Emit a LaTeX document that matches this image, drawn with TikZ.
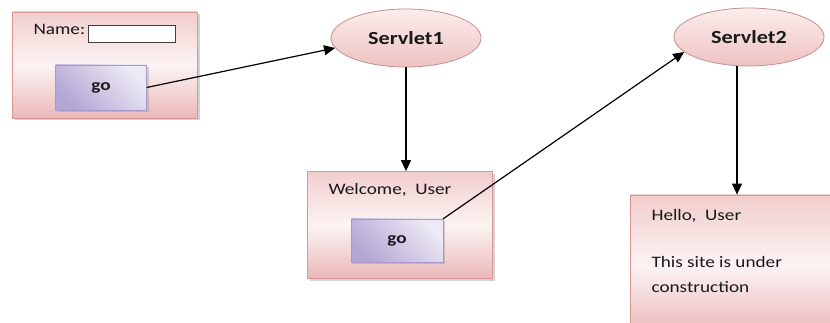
\documentclass[tikz,border=0pt]{standalone}
\usepackage{fontspec}
\setmainfont[FakeStretch=1.2]{Carlito}
\usetikzlibrary{arrows.meta, shapes.geometric, shadows}
\definecolor{PageEdge}{HTML}{D99694}
\definecolor{PagePink}{HTML}{EBB8B8}
\definecolor{PageLight}{HTML}{FCF3F3}
\definecolor{BtnDark}{HTML}{B2A6D4}
\definecolor{BtnLight}{HTML}{EEEAF5}
\definecolor{BtnEdge}{HTML}{A898CC}
\definecolor{OvalEdge}{HTML}{C48E8E}
\definecolor{OvalTop}{HTML}{FBEDED}
\definecolor{OvalPink}{HTML}{EFC2C2}

\begin{document}
\begin{tikzpicture}[x=1pt, y=-1pt,
    every node/.style={font=\fontsize{16}{25}\selectfont, text=black!90},
    page/.style={draw=PageEdge, thick, top color=PagePink!70, bottom color=PagePink, middle color=PageLight,
        drop shadow={shadow xshift=2.5pt, shadow yshift=-2.5pt, opacity=0.35}},
    button/.style={draw=BtnEdge, top color=BtnLight, bottom color=BtnDark, shading angle=-45, font=\fontsize{16}{25}\selectfont\bfseries,
        drop shadow={shadow xshift=2pt, shadow yshift=-2pt, opacity=0.3}},
    servlet/.style={ellipse, draw=OvalEdge, thick, top color=OvalTop, bottom color=OvalPink,
        minimum width=150pt, minimum height=58pt, inner sep=0pt, font=\fontsize{18.5}{25}\selectfont\bfseries},
    link/.style={-{Triangle[length=11pt, width=10pt]}, line width=1.2pt, black}]
    \clip (0,0) rectangle (830,323);

    % Form page
    \node[page, minimum width=185pt, minimum height=106pt] (form) at (104.5,65) {};
    \node[anchor=base west] (namelabel) at (30,35) {Name:};
    \node[draw=black!75, fill=white, minimum width=87pt, minimum height=17pt, inner sep=0pt] (field) at (131.5,34) {};
    \node[button, minimum width=91pt, minimum height=45pt] (go1) at (101,87.5) {go};

    % Servlets
    \node[servlet] (servlet1) at (406,38) {Servlet1};
    \node[servlet] (servlet2) at (749,37) {Servlet2};

    % Welcome page
    \node[page, minimum width=185pt, minimum height=107pt] (welcome) at (399.5,225) {};
    \node[anchor=base west] (welcometext) at (325,195) {Welcome,\ \ User};
    \node[button, minimum width=92pt, minimum height=43pt] (go2) at (397,240.5) {go};

    % Hello page, runs off the edge
    \node[page, minimum width=214pt, minimum height=140pt] (hello) at (737,265) {};
    \node[anchor=base west] (hellotext) at (648,221) {Hello,\ \ User};
    % base of a two-line node is its last line
    \node[anchor=base west, align=left] (sitetext) at (648,292) {This site is under\\construction};

    % Links
    \draw[link] (go1.east) -- (servlet1.188);
    \draw[link] (servlet1.south) -- (servlet1.south |- welcome.north);
    \draw[link] (go2.north east) -- (servlet2.193);
    \draw[link] (hello.north |- servlet2.south) -- (hello.north);

\end{tikzpicture}
\end{document}
